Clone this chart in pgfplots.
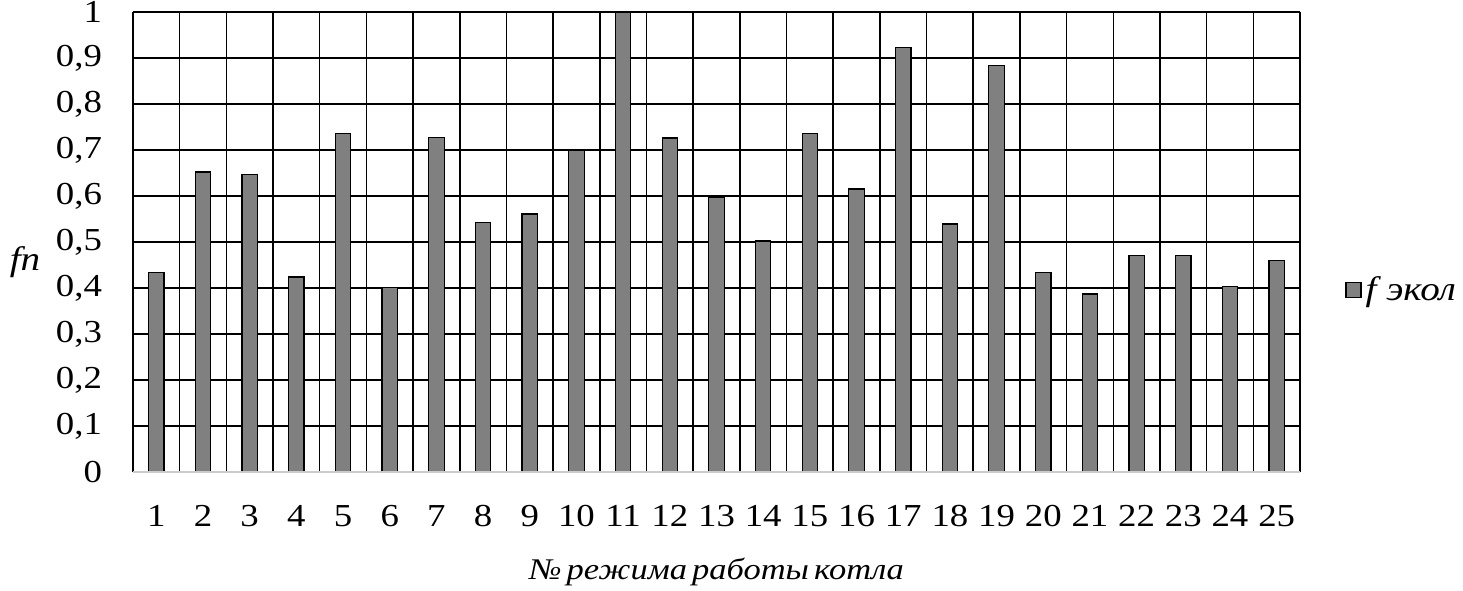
\documentclass[border=0pt]{standalone}
\usepackage{pgfplots}
\pgfplotsset{compat=1.18}
\usepackage{fontspec}
\setmainfont{Liberation Serif}[FakeStretch=1.15]
\newfontfamily\labelfont{Liberation Serif}[FakeStretch=1.15, WordSpace=0.6]
\definecolor{bargray}{RGB}{128,128,128}
\begin{document}
\begin{tikzpicture}
\begin{axis}[
  name=ax,
  scale only axis,
  width=583.5pt, height=230pt,
  xmin=0.5, xmax=25.5, ymin=0, ymax=1,
  ybar, bar width=0.33,
  xtick={1,...,25},
  minor xtick={0.5,1.5,...,25.5},
  ytick={0,0.1,...,1},
  xmajorgrids=false, xminorgrids=true, ymajorgrids=true,
  grid style={black, line width=0.75pt},
  minor grid style={black, line width=0.75pt},
  major tick length=0pt, minor tick length=0pt,
  axis line style={draw=none},
  font=\fontsize{16}{19}\selectfont,
  /pgf/number format/assume math mode=true,
  yticklabel style={/pgf/number format/.cd, use comma, fixed},
  xticklabel shift=13pt,
  yticklabel shift=12pt,
  legend style={at={(axis description cs:1,0.396)}, anchor=west, xshift=22.5pt, draw=none, fill=none, font=\fontsize{17}{20}\selectfont\itshape, inner sep=0pt, nodes={inner sep=2pt}},
  legend image code/.code={\draw[#1] (0pt,-3.75pt) rectangle (7.5pt,3.75pt);},
  clip=false,
]
\addplot[fill=bargray, draw=black, line width=0.6pt] coordinates {
(1,0.433) (2,0.652) (3,0.646) (4,0.424) (5,0.735) (6,0.401) (7,0.728) (8,0.543) (9,0.561) (10,0.700)
(11,1.000) (12,0.726) (13,0.598) (14,0.502) (15,0.735) (16,0.615) (17,0.922) (18,0.539) (19,0.883) (20,0.433)
(21,0.387) (22,0.470) (23,0.470) (24,0.404) (25,0.459)};
\addlegendentry{f экол}
\draw[black!20, line width=1pt] (axis cs:0.5,0) -- (axis cs:25.5,0);
\node[font=\fontsize{17}{20}\selectfont\itshape] at (axis description cs:0,0.456) [xshift=-54pt] {fn};
\node[font=\labelfont\fontsize{15}{18}\selectfont\itshape] at (axis description cs:0.5,0) [yshift=-50pt] {№ режима работы котла};
\end{axis}
\pgfresetboundingbox
\path ([shift={(-66.5pt,-59.5pt)}]ax.south west) rectangle ([shift={(81.5pt,6pt)}]ax.north east);
\end{tikzpicture}
\end{document}
